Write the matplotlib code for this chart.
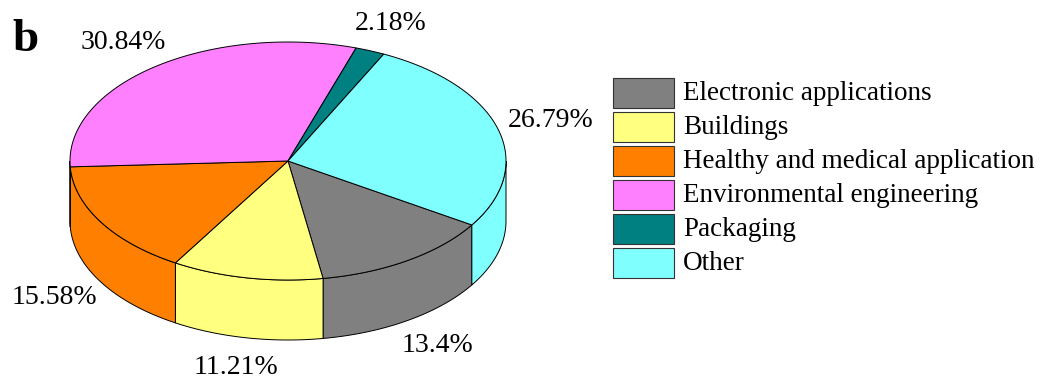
import numpy as np
import matplotlib
matplotlib.use('Agg')
import matplotlib.pyplot as plt
from matplotlib.patches import Polygon, Rectangle

plt.rcParams['font.family'] = ['Liberation Serif', 'DejaVu Serif']

labels = ['Electronic applications', 'Buildings', 'Healthy and medical application',
          'Environmental engineering', 'Packaging', 'Other']
values = [13.4, 11.21, 15.58, 30.84, 2.18, 26.79]
colors = ['#808080', '#FFFF80', '#FF8000', '#FF80FF', '#008080', '#80FFFF']

# pie geometry in pixels
cx, cy = 288, 161
rx, ry = 218, 119
depth = 60
start = -32.5  # degrees, slices go clockwise

fig = plt.figure(figsize=(10.45, 3.78), dpi=100)
ax = fig.add_axes([0, 0, 1, 1])
ax.set_xlim(0, 1045)
ax.set_ylim(378, 0)
ax.axis('off')


def pt(t, dy=0):
    r = np.radians(t)
    return cx + rx * np.cos(r), cy - ry * np.sin(r) + dy


total = sum(values)
angles = [start]
for v in values:
    angles.append(angles[-1] - v / total * 360)

lw = 0.7
# side walls (front half only: angles between -180 and 0)
for i, col in enumerate(colors):
    a1, a2 = angles[i], angles[i + 1]  # a1 > a2
    for off in (0, 360):
        hi = min(a1 + off, 0)
        lo = max(a2 + off, -180)
        if hi <= lo:
            continue
        ts = np.linspace(hi, lo, 60)
        top = [pt(t) for t in ts]
        bot = [pt(t, depth) for t in ts[::-1]]
        ax.add_patch(Polygon(top + bot, closed=True, facecolor=col,
                             edgecolor='black', linewidth=lw))

# top faces
for i, col in enumerate(colors):
    ts = np.linspace(angles[i], angles[i + 1], 120)
    pts = [(cx, cy)] + [pt(t) for t in ts]
    ax.add_patch(Polygon(pts, closed=True, facecolor=col,
                         edgecolor='black', linewidth=lw))

# percentage labels
k = 1.25
for i, v in enumerate(values):
    mid = (angles[i] + angles[i + 1]) / 2
    r = np.radians(mid)
    x = cx + k * rx * np.cos(r)
    y = cy - k * ry * np.sin(r)
    if np.sin(r) < 0:
        y += depth
    ax.text(x, y, f'{v:g}%', ha='center', va='center', fontsize=20)

# legend
lx, ly0, dy = 613, 78, 34
for i, (lab, col) in enumerate(zip(labels, colors)):
    y = ly0 + i * dy
    ax.add_patch(Rectangle((lx, y), 61, 30, facecolor=col,
                           edgecolor='#333333', linewidth=0.8))
    ax.text(683, y + 16, lab, ha='left', va='center', fontsize=19.5)

ax.text(12, 40, 'b', fontsize=34, fontweight='bold', ha='left', va='center')

fig.savefig('out.png', dpi=100)
